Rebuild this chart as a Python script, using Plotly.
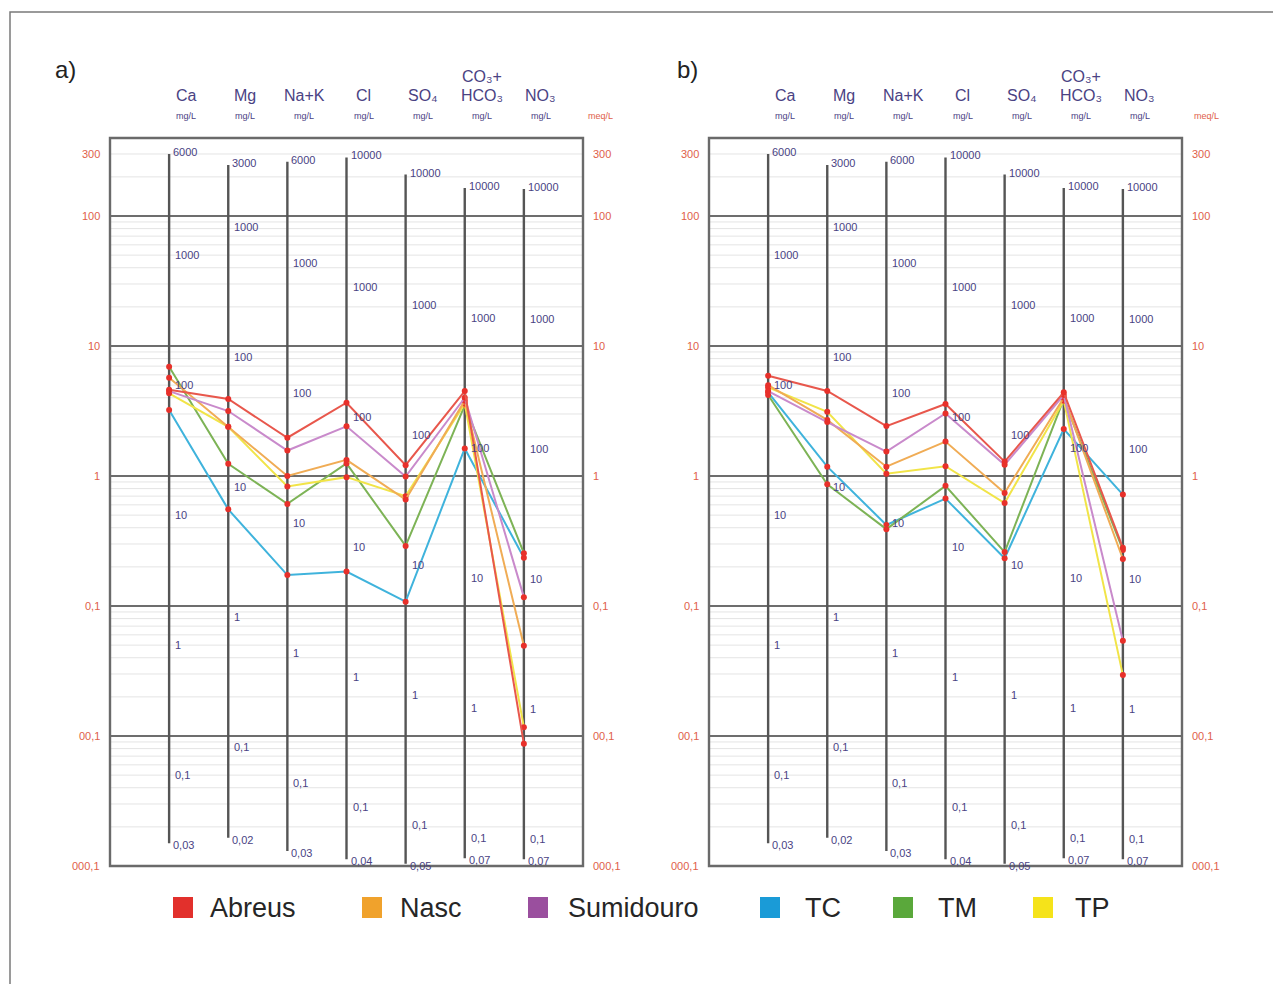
import math
import plotly.graph_objects as go

# page body has an 8px margin; the figure is drawn 8px smaller and positions are
# expressed in reference-image pixels shifted by that margin.
OFF = 8
W, H = 1281 - OFF, 984 - OFF

# ---------------- data ----------------
ion_header = [["Ca"], ["Mg"], ["Na+K"], ["Cl"], ["SO₄"],
              ["CO₃+", "HCO₃"], ["NO₃"]]
eq_weight = [20.04, 12.15, 23.0, 35.45, 48.03, 61.02, 62.0]      # mg per meq
col_top_mg = [6000, 3000, 6000, 10000, 10000, 10000, 10000]
col_top_txt = ["6000", "3000", "6000", "10000", "10000", "10000", "10000"]
col_bottom_mg = [0.03, 0.02, 0.03, 0.04, 0.05, 0.07, 0.07]
col_bottom_txt = ["0,03", "0,02", "0,03", "0,04", "0,05", "0,07", "0,07"]
col_mid_mg = [1000, 100, 10, 1, 0.1]
col_mid_txt = ["1000", "100", "10", "1", "0,1"]

meq_ticks = [300, 100, 10, 1, 0.1, 0.01, 0.001]
meq_tick_txt = ["300", "100", "10", "1", "0,1", "00,1", "000,1"]
major_lines = [100, 10, 1, 0.1, 0.01]
decades = [0.001, 0.01, 0.1, 1, 10, 100]
minor_mult = [2, 3, 4, 5, 6, 7, 8, 9]

samples = ["Abreus", "Nasc", "Sumidouro", "TC", "TM", "TP"]
line_colors = ["#e8574c", "#f0ac55", "#c98acb", "#3fb3dc", "#7db356", "#f1e448"]
legend_colors = ["#e2302c", "#f0a22c", "#9a4f9e", "#1a9bd7", "#5aa83b", "#f5e31a"]

# panel a) meq/L, order: Ca, Mg, Na+K, Cl, SO4, CO3+HCO3, NO3
a_values = {
    "Abreus":    [4.60, 3.91, 1.97, 3.66, 1.21, 4.50, 0.0087],
    "Nasc":      [5.70, 2.39, 1.00, 1.33, 0.66, 3.80, 0.0495],
    "Sumidouro": [4.50, 3.16, 1.57, 2.41, 0.99, 4.00, 0.117],
    "TC":        [3.22, 0.554, 0.173, 0.184, 0.108, 1.63, 0.235],
    "TM":        [6.93, 1.24, 0.61, 1.25, 0.29, 3.50, 0.255],
    "TP":        [4.33, 2.39, 0.83, 0.98, 0.70, 3.60, 0.0117],
}
# panel b)
b_values = {
    "Abreus":    [5.91, 4.51, 2.42, 3.58, 1.29, 4.40, 0.28],
    "Nasc":      [5.00, 2.70, 1.18, 1.84, 0.74, 4.00, 0.23],
    "Sumidouro": [4.50, 2.60, 1.54, 3.03, 1.22, 4.20, 0.054],
    "TC":        [4.40, 1.18, 0.42, 0.67, 0.233, 2.30, 0.72],
    "TM":        [4.20, 0.863, 0.39, 0.84, 0.26, 3.90, 0.27],
    "TP":        [4.80, 3.12, 1.04, 1.19, 0.62, 3.80, 0.0294],
}
draw_order = ["TC", "TM", "TP", "Nasc", "Sumidouro", "Abreus"]

# ---------------- layout geometry ----------------
def px(x):
    return (x - OFF) / W

def py(y):
    return 1 - (y - OFF) / H

panels = [
    dict(name="a)", data=a_values, xa="x", ya="y", dom=[px(110), px(583)],
         label_px=65, meq_px=600, header_off=17),
    dict(name="b)", data=b_values, xa="x2", ya="y2", dom=[px(709), px(1182)],
         label_px=687, meq_px=1206, header_off=17),
]
ydom = [py(866), py(138)]
TEXT_C = "#4a4283"
RED_C = "#e0604a"
FONT = "Liberation Sans, Arial, DejaVu Sans, sans-serif"

fig = go.Figure()
annotations = []
shapes = []
ncol = len(ion_header)

for p in panels:
    xa, ya = p["xa"], p["ya"]
    # minor grid
    mx, my = [], []
    for d in decades:
        for m in minor_mult:
            v = d * m
            if v > 400:
                continue
            mx += [-1, ncol, None]
            my += [v, v, None]
    fig.add_trace(go.Scatter(x=mx, y=my, mode="lines", xaxis=xa, yaxis=ya,
                             line=dict(color="#e4e4e4", width=1),
                             hoverinfo="skip", showlegend=False))
    # major grid
    gx, gy = [], []
    for v in major_lines:
        gx += [-1, ncol, None]
        gy += [v, v, None]
    fig.add_trace(go.Scatter(x=gx, y=gy, mode="lines", xaxis=xa, yaxis=ya,
                             line=dict(color="#3c3c3c", width=1.6),
                             hoverinfo="skip", showlegend=False))
    # ion columns
    cx, cy = [], []
    for i in range(ncol):
        cx += [i, i, None]
        cy += [col_top_mg[i] / eq_weight[i], col_bottom_mg[i] / eq_weight[i], None]
    fig.add_trace(go.Scatter(x=cx, y=cy, mode="lines", xaxis=xa, yaxis=ya,
                             line=dict(color="#555555", width=2.4),
                             hoverinfo="skip", showlegend=False))
    # series
    for s in draw_order:
        k = samples.index(s)
        fig.add_trace(go.Scatter(
            x=list(range(ncol)), y=p["data"][s], mode="lines+markers",
            xaxis=xa, yaxis=ya, name=s, showlegend=False,
            line=dict(color=line_colors[k], width=2),
            marker=dict(color="#e8302a", size=6)))
    # frame
    shapes.append(dict(type="rect", xref=xa + " domain", yref=ya + " domain",
                       x0=0, x1=1, y0=0, y1=1,
                       line=dict(color="#6a6a6a", width=2.4)))
    # column labels (mg/L)
    for i in range(ncol):
        ew = eq_weight[i]
        annotations.append(dict(xref=xa, yref=ya, x=i, y=math.log10(col_top_mg[i] / ew),
                                text=col_top_txt[i], showarrow=False, xanchor="left",
                                yanchor="middle", xshift=2, yshift=2,
                                font=dict(size=11, color=TEXT_C, family=FONT)))
        for mg, t in zip(col_mid_mg, col_mid_txt):
            annotations.append(dict(xref=xa, yref=ya, x=i, y=math.log10(mg / ew),
                                    text=t, showarrow=False, xanchor="left",
                                    yanchor="middle", xshift=4,
                                    font=dict(size=11, color=TEXT_C, family=FONT)))
        annotations.append(dict(xref=xa, yref=ya, x=i, y=math.log10(col_bottom_mg[i] / ew),
                                text=col_bottom_txt[i], showarrow=False, xanchor="left",
                                yanchor="middle", xshift=2, yshift=-2,
                                font=dict(size=11, color=TEXT_C, family=FONT)))
        # headers
        lines = ion_header[i]
        for j, t in enumerate(reversed(lines)):
            annotations.append(dict(xref=xa, yref="paper", x=i, y=py(95 - 19 * j),
                                    text=t, showarrow=False, xanchor="center",
                                    yanchor="middle", xshift=p["header_off"],
                                    font=dict(size=16, color=TEXT_C, family=FONT)))
        annotations.append(dict(xref=xa, yref="paper", x=i, y=py(116),
                                text="mg/L", showarrow=False, xanchor="center",
                                yanchor="middle", xshift=p["header_off"],
                                font=dict(size=9, color=TEXT_C, family=FONT)))
    # meq/L axes labels
    for v, t in zip(meq_ticks, meq_tick_txt):
        annotations.append(dict(xref=xa + " domain", yref=ya, x=0, y=math.log10(v),
                                text=t, showarrow=False, xanchor="right", yanchor="middle",
                                xshift=-8, font=dict(size=11, color=RED_C, family=FONT)))
        annotations.append(dict(xref=xa + " domain", yref=ya, x=1, y=math.log10(v),
                                text=t, showarrow=False, xanchor="left", yanchor="middle",
                                xshift=8, font=dict(size=11, color=RED_C, family=FONT)))
    annotations.append(dict(xref="paper", yref="paper", x=px(p["meq_px"]), y=py(116),
                            text="meq/L", showarrow=False, xanchor="center", yanchor="middle",
                            font=dict(size=9, color=RED_C, family=FONT)))
    annotations.append(dict(xref="paper", yref="paper", x=px(p["label_px"]), y=py(70),
                            text=p["name"], showarrow=False, xanchor="center", yanchor="middle",
                            font=dict(size=24, color="#222222", family=FONT)))

# legend (custom, colored squares)
leg_sq = [173, 362, 528, 760, 893, 1033]
leg_tx = [208, 398, 566, 803, 936, 1073]
for k, s in enumerate(samples):
    shapes.append(dict(type="rect", xref="paper", yref="paper",
                       x0=px(leg_sq[k]), x1=px(leg_sq[k] + 20),
                       y0=py(918), y1=py(897),
                       fillcolor=legend_colors[k], line=dict(width=0)))
    annotations.append(dict(xref="paper", yref="paper", x=px(leg_tx[k]), y=py(908),
                            text=s, showarrow=False, xanchor="left", yanchor="middle",
                            font=dict(size=27, color="#262626", family=FONT)))

# outer border
shapes.append(dict(type="rect", xref="paper", yref="paper",
                   x0=px(10), x1=px(1300), y0=py(1000), y1=py(12),
                   line=dict(color="#7a7a7a", width=1.5)))

axis_x = dict(range=[-1, ncol], visible=False, fixedrange=True)
axis_y = dict(type="log", range=[-3, 2.6], visible=False, domain=ydom, fixedrange=True)

fig.update_layout(
    width=W, height=H, autosize=False,
    margin=dict(l=0, r=0, t=0, b=0),
    paper_bgcolor="white", plot_bgcolor="white",
    xaxis=dict(axis_x, domain=panels[0]["dom"], anchor="y"),
    yaxis=dict(axis_y, anchor="x"),
    xaxis2=dict(axis_x, domain=panels[1]["dom"], anchor="y2"),
    yaxis2=dict(axis_y, anchor="x2"),
    annotations=annotations, shapes=shapes,
    showlegend=False,
)

fig.write_html("out.html")
